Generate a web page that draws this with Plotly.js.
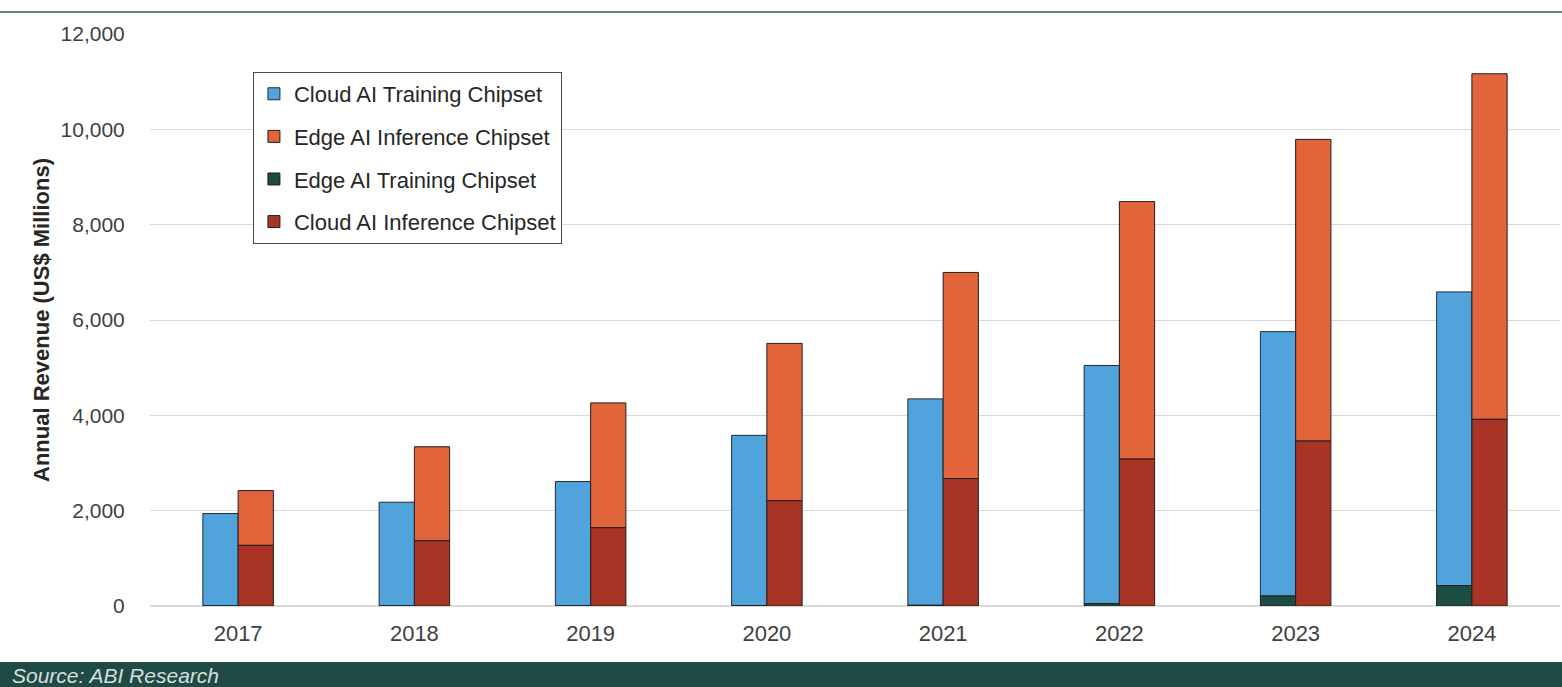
<!DOCTYPE html>
<html>
<head>
<meta charset="utf-8">
<script src="https://cdn.plot.ly/plotly-3.0.1.min.js"></script>
<style>
  html, body { margin: 0; padding: 0; background: #ffffff; }
  #chart { width: 1562px; height: 687px; }
</style>
</head>
<body>
<div id="chart"></div>
<script>
// ---- Data (US$ Millions) ----
const years = ['2017', '2018', '2019', '2020', '2021', '2022', '2023', '2024'];
const cloudTraining  = [1938, 2174, 2606, 3572, 4330, 4996, 5546, 6159];
const edgeInference  = [1149, 1973, 2619, 3298, 4324, 5402, 6328, 7250];
const edgeTraining   = [2, 3, 5, 8, 15, 50, 210, 430];
const cloudInference = [1272, 1368, 1642, 2211, 2674, 3082, 3461, 3916];
const yTicks = [0, 2000, 4000, 6000, 8000, 10000, 12000];

const outline = { color: '#1f1f1f', width: 1 };
const BW = 0.2;

const traces = [
  {
    type: 'bar', name: 'Cloud AI Training Chipset', legendgroup: 'a',
    x: years, y: cloudTraining, base: edgeTraining,
    offset: -BW, width: BW,
    marker: { color: '#51a3dc', line: { color: '#1c2c3c', width: 1 } }
  },
  {
    type: 'bar', name: 'Edge AI Inference Chipset', legendgroup: 'b',
    x: years, y: edgeInference, base: cloudInference,
    offset: 0, width: BW,
    marker: { color: '#e2643a', line: outline }
  },
  {
    type: 'bar', name: 'Edge AI Training Chipset', legendgroup: 'c',
    x: years, y: edgeTraining,
    offset: -BW, width: BW,
    marker: { color: '#1d4c45', line: outline }
  },
  {
    type: 'bar', name: 'Cloud AI Inference Chipset', legendgroup: 'd',
    x: years, y: cloudInference,
    offset: 0, width: BW,
    marker: { color: '#a93324', line: outline }
  }
];

const layout = {
  width: 1562, height: 687,
  margin: { l: 150, r: 2, t: 34, b: 81 },
  paper_bgcolor: '#ffffff', plot_bgcolor: '#ffffff',
  font: { family: '"Liberation Sans", Arial, sans-serif', color: '#404040', size: 21 },
  barmode: 'overlay',
  showlegend: true,
  legend: {
    x: 0.0730, y: 0.9336, xanchor: 'left', yanchor: 'top',
    bgcolor: '#ffffff', bordercolor: '#4a4a4a', borderwidth: 1,
    font: { size: 22, color: '#262626' },
    traceorder: 'grouped', tracegroupgap: 11
  },
  xaxis: {
    type: 'category', range: [-0.5, 7.5],
    showgrid: false, showline: false, zeroline: false,
    ticks: 'outside', ticklen: 8, tickcolor: 'rgba(0,0,0,0)',
    tickfont: { size: 22, color: '#404040' }
  },
  yaxis: {
    range: [0, 12000], tickvals: yTicks, tickformat: ',d',
    showgrid: true, gridcolor: '#d9d9d9', gridwidth: 1,
    zeroline: true, zerolinecolor: '#d9d9d9', zerolinewidth: 1.5,
    showline: false,
    ticks: 'outside', ticklen: 20, tickcolor: 'rgba(0,0,0,0)',
    tickfont: { size: 21, color: '#404040' },
    title: {
      text: '<b>Annual Revenue (US$ Millions)</b>',
      font: { size: 22, color: '#262626' },
      standoff: 4
    }
  },
  shapes: [
    {
      type: 'line', xref: 'paper', yref: 'paper',
      x0: -0.12, x1: 1.01, y0: 1.0385, y1: 1.0385,
      line: { color: '#2c5f59', width: 1.5 }
    },
    {
      type: 'rect', xref: 'paper', yref: 'paper', layer: 'below',
      x0: -0.12, x1: 1.01, y0: -0.098, y1: -0.15,
      fillcolor: '#1f4a45', line: { width: 0 }
    }
  ],
  annotations: [
    {
      xref: 'paper', yref: 'paper', x: -0.0993, y: -0.1215,
      xanchor: 'left', yanchor: 'middle', showarrow: false,
      text: '<i>Source: ABI Research</i>',
      font: { size: 21, color: '#d6dedc' }
    }
  ]
};

Plotly.newPlot('chart', traces, layout, { staticPlot: true, displayModeBar: false });
</script>
</body>
</html>
